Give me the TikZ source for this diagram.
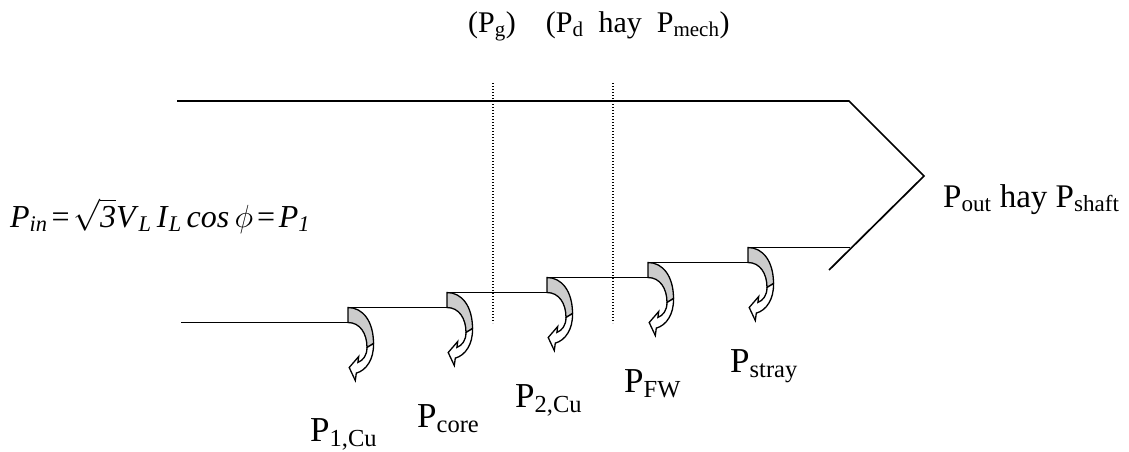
\documentclass[tikz,border=0pt]{standalone}
\usepackage{fix-cm}
\usepackage{fontspec}
\setmainfont{Liberation Serif}
\begin{document}
\begin{tikzpicture}[x=1pt,y=-1pt,
  flow/.style={line width=1.7pt},
  gap/.style={line width=1.4pt,dash pattern=on 1.4pt off 1.6pt},
  lbl/.style={anchor=base west,inner sep=0pt,font=\fontsize{35}{40}\selectfont},
  hdr/.style={anchor=base west,inner sep=0pt,font=\fontsize{30}{34}\selectfont},
  lossarr/.pic={
    \filldraw[fill=gray!40,line width=1.3pt] (0,0) .. controls (15,0) and (25.5,14) .. (25.5,36)
      -- (19,40) .. controls (19,26) and (12,15) .. (0,15) -- cycle;
    \filldraw[fill=white,line width=1.3pt,line join=miter] (25.5,36) .. controls (26,52) and (18,63) .. (8.3,65.6)
      -- (7.3,73) -- (1.2,60) -- (10.7,49) -- (9.9,54.9) .. controls (15,53) and (19,48) .. (19,40) -- cycle;
  }]
\useasboundingbox (0,0) rectangle (1129,451);
% upper edge and arrow head
\coordinate (tl) at (177,101);
\coordinate (tr) at (849,101);
\coordinate (tip) at (924,176);
\coordinate (br) at (829,270);
\draw[flow] (tl) -- (tr) -- (tip) -- (br);
% air gap / shaft boundaries
\draw[gap] (493,83) -- (493,323);
\draw[gap] (613,83) -- (613,323);
% stepped lower edge with losses
\draw[flow] (181,322.5) -- (348,322.5);
\pic at (348,307.5) {lossarr};
\draw[flow] (348,307.5) -- (447,307.5);
\pic at (447,292.5) {lossarr};
\draw[flow] (447,292.5) -- (547,292.5);
\pic at (547,277.5) {lossarr};
\draw[flow] (547,277.5) -- (648,277.5);
\pic at (648,262.5) {lossarr};
\draw[flow] (648,262.5) -- (748,262.5);
\pic at (748,247.5) {lossarr};
\draw[flow] (748,247.5) -- (850,247.5);
% texts
\node[hdr] (top) at (468,32) {(P\textsubscript{g})\hspace{1em}(P\textsubscript{d}\hspace{0.5em}hay\hspace{0.5em}P\textsubscript{mech})};
\node[lbl,font=\fontsize{32}{38}\selectfont] (pin) at (10,227) {\textit{P}\textsubscript{\textit{in}}\hspace{0.12em}=\hspace{0.12em}$\sqrt{\textit{3}}$\textit{V}\textsubscript{\textit{L}}\,\textit{I}\textsubscript{\textit{L}}\hspace{0.15em}\textit{cos}\,$\phi$\hspace{0.12em}=\hspace{0.12em}\textit{P}\textsubscript{\textit{1}}};
\node[lbl,font=\fontsize{33}{38}\selectfont] (pout) at (943,207) {P\textsubscript{out} hay P\textsubscript{shaft}};
\node[lbl] (l1) at (310,441) {P\textsubscript{1,Cu}};
\node[lbl] (l2) at (417,427) {P\textsubscript{core}};
\node[lbl] (l3) at (515,407) {P\textsubscript{2,Cu}};
\node[lbl] (l4) at (624,392) {P\textsubscript{FW}};
\node[lbl] (l5) at (730,372) {P\textsubscript{stray}};
\end{tikzpicture}
\end{document}
